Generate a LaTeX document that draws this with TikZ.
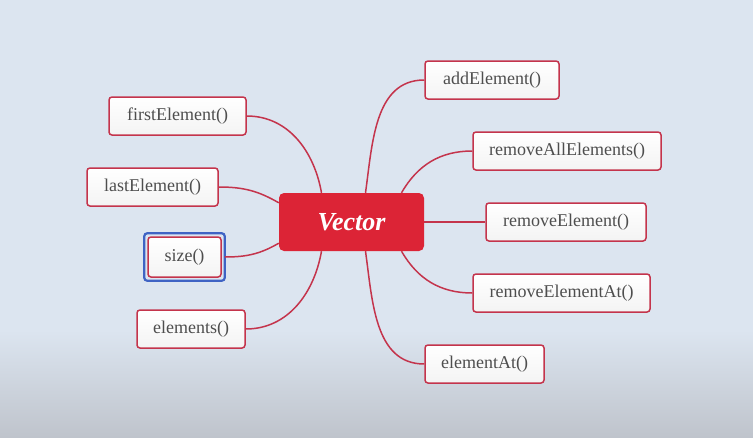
\documentclass[tikz,border=0pt]{standalone}
\usepackage{xcolor}
\usepackage{fontspec}
\setmainfont{Liberation Serif}
\usepackage{tikz}
\usetikzlibrary{calc}
\usetikzlibrary{positioning}

\definecolor{vecred}{HTML}{DC2436}
\definecolor{linkred}{HTML}{C4344C}
\definecolor{leaftext}{HTML}{4E4E4E}
\definecolor{selblue}{HTML}{3F63C4}
\definecolor{bgtop}{HTML}{DCE5F0}
\definecolor{bgbot}{HTML}{BFC4CC}

\tikzset{
  root/.style={rectangle, rounded corners=5pt, fill=vecred, text=white,
    font=\fontsize{26}{30}\selectfont\bfseries\itshape,
    minimum width=145pt, minimum height=58pt, inner sep=0pt},
  leaf/.style={rectangle, rounded corners=3pt, draw=linkred, line width=1.5pt,
    top color=white, bottom color=gray!9, text=leaftext,
    font=\fontsize{18}{21}\selectfont, minimum height=38pt, inner sep=0pt},
  link/.style={draw=linkred, line width=1.5pt}
}

\begin{document}
\begin{tikzpicture}[x=1pt, y=-1pt]
\fill [bgtop] (0,0) rectangle (753,330);
\shade [top color=bgtop, bottom color=bgbot] (0,330) rectangle (753,437);
\useasboundingbox (0,0) rectangle (753,437);

\node [root] (vec) at (351.5, 222) {Vector};

% left branch
\node [leaf, minimum width=137pt] (first) at (177.5, 116) {firstElement()};
\node [leaf, minimum width=131pt] (last) at (152.5, 187) {lastElement()};
\node [leaf, minimum width=73pt, minimum height=40pt] (size) at (184.5, 257) {size()};
\node [leaf, minimum width=108pt] (elems) at (191, 329) {elements()};
\draw [draw=selblue, line width=2.2pt, rounded corners=3pt]
  ($(size.north west)+(-3,-3)$) rectangle ($(size.south east)+(3,3)$);

% right branch
\node [leaf, minimum width=134pt] (add) at (492, 80) {addElement()};
\node [leaf, minimum width=188pt] (remall) at (567, 151) {removeAllElements()};
\node [leaf, minimum width=160pt] (rem) at (566, 222) {removeElement()};
\node [leaf, minimum width=177pt] (remat) at (561.5, 293) {removeElementAt()};
\node [leaf, minimum width=119pt] (elemat) at (484.5, 364) {elementAt()};

\draw [link] ([xshift=-30pt]vec.north) to [out=100, in=0] (first.east);
\draw [link] ([yshift=-10pt]vec.north west) to [out=150, in=0] (last.east);
\draw [link] ([yshift=8pt]vec.south west) to [out=210, in=0] ([xshift=3pt]size.east);
\draw [link] ([xshift=-30pt]vec.south) to [out=-100, in=0] (elems.east);

\draw [link] ([xshift=14pt]vec.north) to [out=82, in=180] (add.west);
\draw [link] ([xshift=50pt]vec.north) to [out=60, in=180] (remall.west);
\draw [link] (vec.east) to (rem.west);
\draw [link] ([xshift=50pt]vec.south) to [out=-60, in=180] (remat.west);
\draw [link] ([xshift=14pt]vec.south) to [out=-82, in=180] (elemat.west);
\end{tikzpicture}
\end{document}
